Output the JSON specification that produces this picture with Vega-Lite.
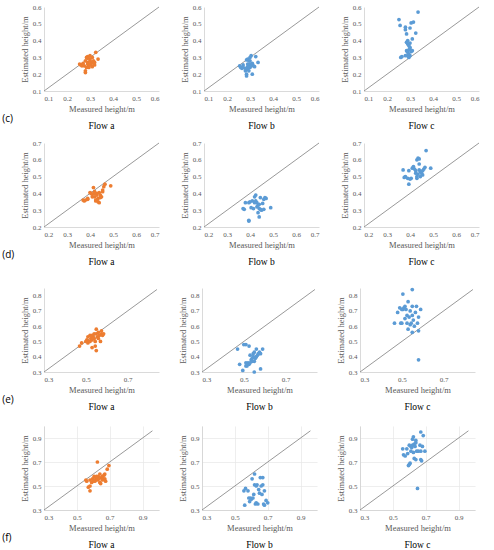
{
  "$schema": "https://vega.github.io/schema/vega-lite/v6.json",
  "padding": {"left": 2, "top": 3, "right": 2, "bottom": 2},
  "background": "white",
  "datasets": {
    "diag": [
      {"r": "c", "x": 0.1, "y": 0.1}, {"r": "c", "x": 0.6, "y": 0.6},
      {"r": "d", "x": 0.2, "y": 0.2}, {"r": "d", "x": 0.7, "y": 0.7},
      {"r": "e", "x": 0.3, "y": 0.3}, {"r": "e", "x": 0.84, "y": 0.84},
      {"r": "f", "x": 0.3, "y": 0.3}, {"r": "f", "x": 0.96, "y": 0.96}
    ],
    "pts": [
      {"r": "c", "f": "a", "x": 0.255, "y": 0.26}, {"r": "c", "f": "a", "x": 0.26, "y": 0.255}, {"r": "c", "f": "a", "x": 0.265, "y": 0.25},
      {"r": "c", "f": "a", "x": 0.27, "y": 0.265}, {"r": "c", "f": "a", "x": 0.275, "y": 0.25}, {"r": "c", "f": "a", "x": 0.28, "y": 0.21},
      {"r": "c", "f": "a", "x": 0.28, "y": 0.22}, {"r": "c", "f": "a", "x": 0.285, "y": 0.3}, {"r": "c", "f": "a", "x": 0.29, "y": 0.305},
      {"r": "c", "f": "a", "x": 0.29, "y": 0.27}, {"r": "c", "f": "a", "x": 0.29, "y": 0.26}, {"r": "c", "f": "a", "x": 0.295, "y": 0.25},
      {"r": "c", "f": "a", "x": 0.295, "y": 0.24}, {"r": "c", "f": "a", "x": 0.3, "y": 0.29}, {"r": "c", "f": "a", "x": 0.3, "y": 0.28},
      {"r": "c", "f": "a", "x": 0.3, "y": 0.31}, {"r": "c", "f": "a", "x": 0.305, "y": 0.27}, {"r": "c", "f": "a", "x": 0.305, "y": 0.255},
      {"r": "c", "f": "a", "x": 0.31, "y": 0.27}, {"r": "c", "f": "a", "x": 0.31, "y": 0.245}, {"r": "c", "f": "a", "x": 0.315, "y": 0.28},
      {"r": "c", "f": "a", "x": 0.32, "y": 0.27}, {"r": "c", "f": "a", "x": 0.32, "y": 0.255}, {"r": "c", "f": "a", "x": 0.325, "y": 0.33},
      {"r": "c", "f": "a", "x": 0.335, "y": 0.29}, {"r": "c", "f": "a", "x": 0.285, "y": 0.24}, {"r": "c", "f": "a", "x": 0.28, "y": 0.28},
      {"r": "c", "f": "a", "x": 0.3, "y": 0.26}, {"r": "c", "f": "a", "x": 0.31, "y": 0.3}, {"r": "c", "f": "a", "x": 0.29, "y": 0.295},

      {"r": "c", "f": "b", "x": 0.255, "y": 0.25}, {"r": "c", "f": "b", "x": 0.26, "y": 0.24}, {"r": "c", "f": "b", "x": 0.265, "y": 0.235},
      {"r": "c", "f": "b", "x": 0.27, "y": 0.255}, {"r": "c", "f": "b", "x": 0.28, "y": 0.22}, {"r": "c", "f": "b", "x": 0.285, "y": 0.19},
      {"r": "c", "f": "b", "x": 0.285, "y": 0.2}, {"r": "c", "f": "b", "x": 0.285, "y": 0.285}, {"r": "c", "f": "b", "x": 0.29, "y": 0.29},
      {"r": "c", "f": "b", "x": 0.29, "y": 0.23}, {"r": "c", "f": "b", "x": 0.295, "y": 0.28}, {"r": "c", "f": "b", "x": 0.295, "y": 0.25},
      {"r": "c", "f": "b", "x": 0.3, "y": 0.3}, {"r": "c", "f": "b", "x": 0.3, "y": 0.26}, {"r": "c", "f": "b", "x": 0.3, "y": 0.24},
      {"r": "c", "f": "b", "x": 0.305, "y": 0.31}, {"r": "c", "f": "b", "x": 0.305, "y": 0.25}, {"r": "c", "f": "b", "x": 0.31, "y": 0.255},
      {"r": "c", "f": "b", "x": 0.31, "y": 0.2}, {"r": "c", "f": "b", "x": 0.315, "y": 0.25}, {"r": "c", "f": "b", "x": 0.32, "y": 0.245},
      {"r": "c", "f": "b", "x": 0.325, "y": 0.305}, {"r": "c", "f": "b", "x": 0.335, "y": 0.27}, {"r": "c", "f": "b", "x": 0.29, "y": 0.245},
      {"r": "c", "f": "b", "x": 0.295, "y": 0.22}, {"r": "c", "f": "b", "x": 0.3, "y": 0.28}, {"r": "c", "f": "b", "x": 0.28, "y": 0.235},
      {"r": "c", "f": "b", "x": 0.27, "y": 0.24}, {"r": "c", "f": "b", "x": 0.31, "y": 0.265}, {"r": "c", "f": "b", "x": 0.29, "y": 0.26},

      {"r": "c", "f": "c", "x": 0.252, "y": 0.525}, {"r": "c", "f": "c", "x": 0.257, "y": 0.49}, {"r": "c", "f": "c", "x": 0.26, "y": 0.3},
      {"r": "c", "f": "c", "x": 0.265, "y": 0.305}, {"r": "c", "f": "c", "x": 0.28, "y": 0.48}, {"r": "c", "f": "c", "x": 0.28, "y": 0.465},
      {"r": "c", "f": "c", "x": 0.285, "y": 0.44}, {"r": "c", "f": "c", "x": 0.29, "y": 0.4}, {"r": "c", "f": "c", "x": 0.285, "y": 0.39},
      {"r": "c", "f": "c", "x": 0.29, "y": 0.38}, {"r": "c", "f": "c", "x": 0.295, "y": 0.37}, {"r": "c", "f": "c", "x": 0.3, "y": 0.36},
      {"r": "c", "f": "c", "x": 0.3, "y": 0.35}, {"r": "c", "f": "c", "x": 0.285, "y": 0.34}, {"r": "c", "f": "c", "x": 0.29, "y": 0.33},
      {"r": "c", "f": "c", "x": 0.295, "y": 0.32}, {"r": "c", "f": "c", "x": 0.3, "y": 0.31}, {"r": "c", "f": "c", "x": 0.295, "y": 0.3},
      {"r": "c", "f": "c", "x": 0.305, "y": 0.505}, {"r": "c", "f": "c", "x": 0.315, "y": 0.51}, {"r": "c", "f": "c", "x": 0.3, "y": 0.475},
      {"r": "c", "f": "c", "x": 0.325, "y": 0.445}, {"r": "c", "f": "c", "x": 0.31, "y": 0.41}, {"r": "c", "f": "c", "x": 0.31, "y": 0.34},
      {"r": "c", "f": "c", "x": 0.305, "y": 0.335}, {"r": "c", "f": "c", "x": 0.335, "y": 0.57}, {"r": "c", "f": "c", "x": 0.29, "y": 0.31},
      {"r": "c", "f": "c", "x": 0.28, "y": 0.31}, {"r": "c", "f": "c", "x": 0.3, "y": 0.385}, {"r": "c", "f": "c", "x": 0.295, "y": 0.345},

      {"r": "d", "f": "a", "x": 0.37, "y": 0.36}, {"r": "d", "f": "a", "x": 0.375, "y": 0.355}, {"r": "d", "f": "a", "x": 0.38, "y": 0.36},
      {"r": "d", "f": "a", "x": 0.39, "y": 0.37}, {"r": "d", "f": "a", "x": 0.39, "y": 0.365}, {"r": "d", "f": "a", "x": 0.4, "y": 0.405},
      {"r": "d", "f": "a", "x": 0.405, "y": 0.4}, {"r": "d", "f": "a", "x": 0.41, "y": 0.395}, {"r": "d", "f": "a", "x": 0.415, "y": 0.435},
      {"r": "d", "f": "a", "x": 0.42, "y": 0.41}, {"r": "d", "f": "a", "x": 0.42, "y": 0.38}, {"r": "d", "f": "a", "x": 0.425, "y": 0.355},
      {"r": "d", "f": "a", "x": 0.43, "y": 0.4}, {"r": "d", "f": "a", "x": 0.43, "y": 0.39}, {"r": "d", "f": "a", "x": 0.435, "y": 0.37},
      {"r": "d", "f": "a", "x": 0.435, "y": 0.35}, {"r": "d", "f": "a", "x": 0.44, "y": 0.345}, {"r": "d", "f": "a", "x": 0.44, "y": 0.405},
      {"r": "d", "f": "a", "x": 0.445, "y": 0.375}, {"r": "d", "f": "a", "x": 0.45, "y": 0.38}, {"r": "d", "f": "a", "x": 0.455, "y": 0.42},
      {"r": "d", "f": "a", "x": 0.455, "y": 0.41}, {"r": "d", "f": "a", "x": 0.46, "y": 0.44}, {"r": "d", "f": "a", "x": 0.465, "y": 0.455},
      {"r": "d", "f": "a", "x": 0.49, "y": 0.445}, {"r": "d", "f": "a", "x": 0.425, "y": 0.36}, {"r": "d", "f": "a", "x": 0.43, "y": 0.36},
      {"r": "d", "f": "a", "x": 0.445, "y": 0.39}, {"r": "d", "f": "a", "x": 0.41, "y": 0.38}, {"r": "d", "f": "a", "x": 0.42, "y": 0.4},

      {"r": "d", "f": "b", "x": 0.37, "y": 0.31}, {"r": "d", "f": "b", "x": 0.375, "y": 0.305}, {"r": "d", "f": "b", "x": 0.38, "y": 0.345},
      {"r": "d", "f": "b", "x": 0.395, "y": 0.345}, {"r": "d", "f": "b", "x": 0.395, "y": 0.24}, {"r": "d", "f": "b", "x": 0.395, "y": 0.235},
      {"r": "d", "f": "b", "x": 0.4, "y": 0.35}, {"r": "d", "f": "b", "x": 0.405, "y": 0.315}, {"r": "d", "f": "b", "x": 0.41, "y": 0.355},
      {"r": "d", "f": "b", "x": 0.415, "y": 0.31}, {"r": "d", "f": "b", "x": 0.42, "y": 0.38}, {"r": "d", "f": "b", "x": 0.425, "y": 0.39},
      {"r": "d", "f": "b", "x": 0.425, "y": 0.355}, {"r": "d", "f": "b", "x": 0.43, "y": 0.345}, {"r": "d", "f": "b", "x": 0.43, "y": 0.32},
      {"r": "d", "f": "b", "x": 0.435, "y": 0.33}, {"r": "d", "f": "b", "x": 0.435, "y": 0.285}, {"r": "d", "f": "b", "x": 0.44, "y": 0.26},
      {"r": "d", "f": "b", "x": 0.44, "y": 0.31}, {"r": "d", "f": "b", "x": 0.445, "y": 0.375}, {"r": "d", "f": "b", "x": 0.445, "y": 0.305},
      {"r": "d", "f": "b", "x": 0.45, "y": 0.3}, {"r": "d", "f": "b", "x": 0.455, "y": 0.34}, {"r": "d", "f": "b", "x": 0.46, "y": 0.365},
      {"r": "d", "f": "b", "x": 0.465, "y": 0.375}, {"r": "d", "f": "b", "x": 0.47, "y": 0.37}, {"r": "d", "f": "b", "x": 0.46, "y": 0.305},
      {"r": "d", "f": "b", "x": 0.49, "y": 0.315}, {"r": "d", "f": "b", "x": 0.42, "y": 0.345}, {"r": "d", "f": "b", "x": 0.44, "y": 0.335},

      {"r": "d", "f": "c", "x": 0.37, "y": 0.54}, {"r": "d", "f": "c", "x": 0.375, "y": 0.495}, {"r": "d", "f": "c", "x": 0.38, "y": 0.5},
      {"r": "d", "f": "c", "x": 0.39, "y": 0.49}, {"r": "d", "f": "c", "x": 0.395, "y": 0.535}, {"r": "d", "f": "c", "x": 0.4, "y": 0.485},
      {"r": "d", "f": "c", "x": 0.395, "y": 0.455}, {"r": "d", "f": "c", "x": 0.405, "y": 0.49}, {"r": "d", "f": "c", "x": 0.41, "y": 0.55},
      {"r": "d", "f": "c", "x": 0.415, "y": 0.56}, {"r": "d", "f": "c", "x": 0.42, "y": 0.545}, {"r": "d", "f": "c", "x": 0.425, "y": 0.535},
      {"r": "d", "f": "c", "x": 0.43, "y": 0.6}, {"r": "d", "f": "c", "x": 0.435, "y": 0.61}, {"r": "d", "f": "c", "x": 0.44, "y": 0.605},
      {"r": "d", "f": "c", "x": 0.44, "y": 0.575}, {"r": "d", "f": "c", "x": 0.44, "y": 0.54}, {"r": "d", "f": "c", "x": 0.43, "y": 0.5},
      {"r": "d", "f": "c", "x": 0.43, "y": 0.49}, {"r": "d", "f": "c", "x": 0.445, "y": 0.53}, {"r": "d", "f": "c", "x": 0.45, "y": 0.52},
      {"r": "d", "f": "c", "x": 0.455, "y": 0.51}, {"r": "d", "f": "c", "x": 0.46, "y": 0.545}, {"r": "d", "f": "c", "x": 0.465, "y": 0.555},
      {"r": "d", "f": "c", "x": 0.47, "y": 0.655}, {"r": "d", "f": "c", "x": 0.49, "y": 0.55}, {"r": "d", "f": "c", "x": 0.435, "y": 0.515},
      {"r": "d", "f": "c", "x": 0.425, "y": 0.52}, {"r": "d", "f": "c", "x": 0.445, "y": 0.5}, {"r": "d", "f": "c", "x": 0.455, "y": 0.535},

      {"r": "e", "f": "a", "x": 0.47, "y": 0.47}, {"r": "e", "f": "a", "x": 0.48, "y": 0.49}, {"r": "e", "f": "a", "x": 0.5, "y": 0.5},
      {"r": "e", "f": "a", "x": 0.505, "y": 0.51}, {"r": "e", "f": "a", "x": 0.51, "y": 0.49}, {"r": "e", "f": "a", "x": 0.51, "y": 0.53},
      {"r": "e", "f": "a", "x": 0.515, "y": 0.5}, {"r": "e", "f": "a", "x": 0.52, "y": 0.54}, {"r": "e", "f": "a", "x": 0.525, "y": 0.52},
      {"r": "e", "f": "a", "x": 0.53, "y": 0.51}, {"r": "e", "f": "a", "x": 0.53, "y": 0.46}, {"r": "e", "f": "a", "x": 0.535, "y": 0.53},
      {"r": "e", "f": "a", "x": 0.54, "y": 0.55}, {"r": "e", "f": "a", "x": 0.54, "y": 0.52}, {"r": "e", "f": "a", "x": 0.545, "y": 0.5},
      {"r": "e", "f": "a", "x": 0.545, "y": 0.47}, {"r": "e", "f": "a", "x": 0.55, "y": 0.58}, {"r": "e", "f": "a", "x": 0.55, "y": 0.55},
      {"r": "e", "f": "a", "x": 0.55, "y": 0.44}, {"r": "e", "f": "a", "x": 0.555, "y": 0.53}, {"r": "e", "f": "a", "x": 0.56, "y": 0.56},
      {"r": "e", "f": "a", "x": 0.565, "y": 0.54}, {"r": "e", "f": "a", "x": 0.57, "y": 0.5}, {"r": "e", "f": "a", "x": 0.575, "y": 0.57},
      {"r": "e", "f": "a", "x": 0.575, "y": 0.55}, {"r": "e", "f": "a", "x": 0.58, "y": 0.54}, {"r": "e", "f": "a", "x": 0.585, "y": 0.55},
      {"r": "e", "f": "a", "x": 0.52, "y": 0.5}, {"r": "e", "f": "a", "x": 0.53, "y": 0.54}, {"r": "e", "f": "a", "x": 0.56, "y": 0.52},

      {"r": "e", "f": "b", "x": 0.47, "y": 0.45}, {"r": "e", "f": "b", "x": 0.48, "y": 0.35}, {"r": "e", "f": "b", "x": 0.495, "y": 0.31},
      {"r": "e", "f": "b", "x": 0.5, "y": 0.48}, {"r": "e", "f": "b", "x": 0.51, "y": 0.48}, {"r": "e", "f": "b", "x": 0.51, "y": 0.36},
      {"r": "e", "f": "b", "x": 0.51, "y": 0.34}, {"r": "e", "f": "b", "x": 0.515, "y": 0.34}, {"r": "e", "f": "b", "x": 0.52, "y": 0.36},
      {"r": "e", "f": "b", "x": 0.525, "y": 0.47}, {"r": "e", "f": "b", "x": 0.525, "y": 0.35}, {"r": "e", "f": "b", "x": 0.53, "y": 0.41},
      {"r": "e", "f": "b", "x": 0.535, "y": 0.38}, {"r": "e", "f": "b", "x": 0.54, "y": 0.37}, {"r": "e", "f": "b", "x": 0.54, "y": 0.39},
      {"r": "e", "f": "b", "x": 0.545, "y": 0.42}, {"r": "e", "f": "b", "x": 0.545, "y": 0.4}, {"r": "e", "f": "b", "x": 0.55, "y": 0.43},
      {"r": "e", "f": "b", "x": 0.55, "y": 0.37}, {"r": "e", "f": "b", "x": 0.55, "y": 0.3}, {"r": "e", "f": "b", "x": 0.555, "y": 0.39},
      {"r": "e", "f": "b", "x": 0.56, "y": 0.45}, {"r": "e", "f": "b", "x": 0.56, "y": 0.4}, {"r": "e", "f": "b", "x": 0.565, "y": 0.41},
      {"r": "e", "f": "b", "x": 0.57, "y": 0.42}, {"r": "e", "f": "b", "x": 0.575, "y": 0.43}, {"r": "e", "f": "b", "x": 0.58, "y": 0.42},
      {"r": "e", "f": "b", "x": 0.58, "y": 0.32}, {"r": "e", "f": "b", "x": 0.59, "y": 0.45}, {"r": "e", "f": "b", "x": 0.53, "y": 0.36},

      {"r": "e", "f": "c", "x": 0.465, "y": 0.62}, {"r": "e", "f": "c", "x": 0.48, "y": 0.69}, {"r": "e", "f": "c", "x": 0.49, "y": 0.72},
      {"r": "e", "f": "c", "x": 0.495, "y": 0.62}, {"r": "e", "f": "c", "x": 0.5, "y": 0.62}, {"r": "e", "f": "c", "x": 0.505, "y": 0.81},
      {"r": "e", "f": "c", "x": 0.505, "y": 0.71}, {"r": "e", "f": "c", "x": 0.51, "y": 0.72}, {"r": "e", "f": "c", "x": 0.515, "y": 0.73},
      {"r": "e", "f": "c", "x": 0.515, "y": 0.65}, {"r": "e", "f": "c", "x": 0.52, "y": 0.71}, {"r": "e", "f": "c", "x": 0.525, "y": 0.67},
      {"r": "e", "f": "c", "x": 0.53, "y": 0.76}, {"r": "e", "f": "c", "x": 0.53, "y": 0.58}, {"r": "e", "f": "c", "x": 0.535, "y": 0.66},
      {"r": "e", "f": "c", "x": 0.54, "y": 0.7}, {"r": "e", "f": "c", "x": 0.54, "y": 0.61}, {"r": "e", "f": "c", "x": 0.545, "y": 0.62},
      {"r": "e", "f": "c", "x": 0.55, "y": 0.84}, {"r": "e", "f": "c", "x": 0.55, "y": 0.73}, {"r": "e", "f": "c", "x": 0.55, "y": 0.67},
      {"r": "e", "f": "c", "x": 0.55, "y": 0.56}, {"r": "e", "f": "c", "x": 0.555, "y": 0.64}, {"r": "e", "f": "c", "x": 0.56, "y": 0.6},
      {"r": "e", "f": "c", "x": 0.565, "y": 0.69}, {"r": "e", "f": "c", "x": 0.57, "y": 0.73}, {"r": "e", "f": "c", "x": 0.575, "y": 0.62},
      {"r": "e", "f": "c", "x": 0.58, "y": 0.66}, {"r": "e", "f": "c", "x": 0.58, "y": 0.57}, {"r": "e", "f": "c", "x": 0.58, "y": 0.38},
      {"r": "e", "f": "c", "x": 0.59, "y": 0.71}, {"r": "e", "f": "c", "x": 0.5, "y": 0.71}, {"r": "e", "f": "c", "x": 0.525, "y": 0.62},

      {"r": "f", "f": "a", "x": 0.555, "y": 0.55}, {"r": "f", "f": "a", "x": 0.56, "y": 0.54}, {"r": "f", "f": "a", "x": 0.57, "y": 0.49},
      {"r": "f", "f": "a", "x": 0.58, "y": 0.46}, {"r": "f", "f": "a", "x": 0.58, "y": 0.5}, {"r": "f", "f": "a", "x": 0.58, "y": 0.55},
      {"r": "f", "f": "a", "x": 0.59, "y": 0.53}, {"r": "f", "f": "a", "x": 0.595, "y": 0.56}, {"r": "f", "f": "a", "x": 0.6, "y": 0.55},
      {"r": "f", "f": "a", "x": 0.605, "y": 0.58}, {"r": "f", "f": "a", "x": 0.61, "y": 0.54}, {"r": "f", "f": "a", "x": 0.615, "y": 0.57},
      {"r": "f", "f": "a", "x": 0.62, "y": 0.56}, {"r": "f", "f": "a", "x": 0.625, "y": 0.7}, {"r": "f", "f": "a", "x": 0.625, "y": 0.55},
      {"r": "f", "f": "a", "x": 0.63, "y": 0.58}, {"r": "f", "f": "a", "x": 0.635, "y": 0.56}, {"r": "f", "f": "a", "x": 0.64, "y": 0.6},
      {"r": "f", "f": "a", "x": 0.64, "y": 0.53}, {"r": "f", "f": "a", "x": 0.645, "y": 0.52}, {"r": "f", "f": "a", "x": 0.65, "y": 0.57},
      {"r": "f", "f": "a", "x": 0.655, "y": 0.58}, {"r": "f", "f": "a", "x": 0.66, "y": 0.56}, {"r": "f", "f": "a", "x": 0.665, "y": 0.59},
      {"r": "f", "f": "a", "x": 0.67, "y": 0.6}, {"r": "f", "f": "a", "x": 0.67, "y": 0.56}, {"r": "f", "f": "a", "x": 0.675, "y": 0.54},
      {"r": "f", "f": "a", "x": 0.685, "y": 0.64}, {"r": "f", "f": "a", "x": 0.695, "y": 0.67}, {"r": "f", "f": "a", "x": 0.6, "y": 0.54},
      {"r": "f", "f": "a", "x": 0.62, "y": 0.58}, {"r": "f", "f": "a", "x": 0.655, "y": 0.55},

      {"r": "f", "f": "b", "x": 0.555, "y": 0.46}, {"r": "f", "f": "b", "x": 0.56, "y": 0.34}, {"r": "f", "f": "b", "x": 0.565, "y": 0.48},
      {"r": "f", "f": "b", "x": 0.58, "y": 0.46}, {"r": "f", "f": "b", "x": 0.585, "y": 0.4}, {"r": "f", "f": "b", "x": 0.59, "y": 0.37},
      {"r": "f", "f": "b", "x": 0.595, "y": 0.4}, {"r": "f", "f": "b", "x": 0.6, "y": 0.39}, {"r": "f", "f": "b", "x": 0.605, "y": 0.56},
      {"r": "f", "f": "b", "x": 0.61, "y": 0.4}, {"r": "f", "f": "b", "x": 0.615, "y": 0.43}, {"r": "f", "f": "b", "x": 0.62, "y": 0.6},
      {"r": "f", "f": "b", "x": 0.62, "y": 0.51}, {"r": "f", "f": "b", "x": 0.625, "y": 0.35}, {"r": "f", "f": "b", "x": 0.63, "y": 0.36},
      {"r": "f", "f": "b", "x": 0.635, "y": 0.51}, {"r": "f", "f": "b", "x": 0.64, "y": 0.35}, {"r": "f", "f": "b", "x": 0.645, "y": 0.47},
      {"r": "f", "f": "b", "x": 0.65, "y": 0.44}, {"r": "f", "f": "b", "x": 0.655, "y": 0.57}, {"r": "f", "f": "b", "x": 0.66, "y": 0.5},
      {"r": "f", "f": "b", "x": 0.665, "y": 0.43}, {"r": "f", "f": "b", "x": 0.67, "y": 0.57}, {"r": "f", "f": "b", "x": 0.67, "y": 0.51},
      {"r": "f", "f": "b", "x": 0.675, "y": 0.35}, {"r": "f", "f": "b", "x": 0.68, "y": 0.46}, {"r": "f", "f": "b", "x": 0.68, "y": 0.34},
      {"r": "f", "f": "b", "x": 0.69, "y": 0.38}, {"r": "f", "f": "b", "x": 0.7, "y": 0.36}, {"r": "f", "f": "b", "x": 0.63, "y": 0.5},

      {"r": "f", "f": "c", "x": 0.56, "y": 0.81}, {"r": "f", "f": "c", "x": 0.565, "y": 0.76}, {"r": "f", "f": "c", "x": 0.575, "y": 0.75},
      {"r": "f", "f": "c", "x": 0.585, "y": 0.81}, {"r": "f", "f": "c", "x": 0.59, "y": 0.77}, {"r": "f", "f": "c", "x": 0.595, "y": 0.67},
      {"r": "f", "f": "c", "x": 0.6, "y": 0.68}, {"r": "f", "f": "c", "x": 0.6, "y": 0.84}, {"r": "f", "f": "c", "x": 0.605, "y": 0.69},
      {"r": "f", "f": "c", "x": 0.61, "y": 0.83}, {"r": "f", "f": "c", "x": 0.615, "y": 0.82}, {"r": "f", "f": "c", "x": 0.62, "y": 0.89},
      {"r": "f", "f": "c", "x": 0.62, "y": 0.84}, {"r": "f", "f": "c", "x": 0.625, "y": 0.91}, {"r": "f", "f": "c", "x": 0.625, "y": 0.78},
      {"r": "f", "f": "c", "x": 0.63, "y": 0.85}, {"r": "f", "f": "c", "x": 0.63, "y": 0.73}, {"r": "f", "f": "c", "x": 0.635, "y": 0.83},
      {"r": "f", "f": "c", "x": 0.64, "y": 0.88}, {"r": "f", "f": "c", "x": 0.64, "y": 0.86}, {"r": "f", "f": "c", "x": 0.64, "y": 0.72},
      {"r": "f", "f": "c", "x": 0.645, "y": 0.79}, {"r": "f", "f": "c", "x": 0.65, "y": 0.48}, {"r": "f", "f": "c", "x": 0.655, "y": 0.79},
      {"r": "f", "f": "c", "x": 0.665, "y": 0.84}, {"r": "f", "f": "c", "x": 0.67, "y": 0.95}, {"r": "f", "f": "c", "x": 0.67, "y": 0.79},
      {"r": "f", "f": "c", "x": 0.67, "y": 0.72}, {"r": "f", "f": "c", "x": 0.675, "y": 0.71}, {"r": "f", "f": "c", "x": 0.68, "y": 0.83},
      {"r": "f", "f": "c", "x": 0.685, "y": 0.92}, {"r": "f", "f": "c", "x": 0.695, "y": 0.79}, {"r": "f", "f": "c", "x": 0.61, "y": 0.79}
    ]
  },
  "spacing": 21,
  "vconcat": [
    {
      "spacing": 9,
      "vconcat": [
        {
          "title": {"text": "(c)", "orient": "bottom", "anchor": "start", "offset": -16, "dx": -18, "font": "Open Sans", "fontSize": 10, "fontWeight": "normal", "color": "#000000"},
          "spacing": 19,
          "hconcat": [
            {
              "width": 115, "height": 84, "title": "Flow a",
              "encoding": {
                "x": {"field": "x", "type": "quantitative", "scale": {"domain": [0.1, 0.6]}, "axis": {"values": [0.1, 0.2, 0.3, 0.4, 0.5, 0.6], "title": "Measured height/m"}},
                "y": {"field": "y", "type": "quantitative", "scale": {"domain": [0.1, 0.6]}, "axis": {"values": [0.1, 0.2, 0.3, 0.4, 0.5, 0.6], "title": "Estimated height/m"}}
              },
              "layer": [
                {"data": {"name": "diag"}, "transform": [{"filter": "datum.r == 'c'"}], "mark": {"type": "line", "color": "#7f7f7f", "strokeWidth": 0.8}},
                {"data": {"name": "pts"}, "transform": [{"filter": "datum.r == 'c' && datum.f == 'a'"}], "mark": {"type": "circle", "size": 14, "color": "#ED7D31", "opacity": 1}}
              ]
            },
            {
              "width": 115, "height": 84, "title": "Flow b",
              "encoding": {
                "x": {"field": "x", "type": "quantitative", "scale": {"domain": [0.1, 0.6]}, "axis": {"values": [0.1, 0.2, 0.3, 0.4, 0.5, 0.6], "title": "Measured height/m"}},
                "y": {"field": "y", "type": "quantitative", "scale": {"domain": [0.1, 0.6]}, "axis": {"values": [0.1, 0.2, 0.3, 0.4, 0.5, 0.6], "title": "Estimated height/m"}}
              },
              "layer": [
                {"data": {"name": "diag"}, "transform": [{"filter": "datum.r == 'c'"}], "mark": {"type": "line", "color": "#7f7f7f", "strokeWidth": 0.8}},
                {"data": {"name": "pts"}, "transform": [{"filter": "datum.r == 'c' && datum.f == 'b'"}], "mark": {"type": "circle", "size": 14, "color": "#5B9BD5", "opacity": 1}}
              ]
            },
            {
              "width": 115, "height": 84, "title": "Flow c",
              "encoding": {
                "x": {"field": "x", "type": "quantitative", "scale": {"domain": [0.1, 0.6]}, "axis": {"values": [0.1, 0.2, 0.3, 0.4, 0.5, 0.6], "title": "Measured height/m"}},
                "y": {"field": "y", "type": "quantitative", "scale": {"domain": [0.1, 0.6]}, "axis": {"values": [0.1, 0.2, 0.3, 0.4, 0.5, 0.6], "title": "Estimated height/m"}}
              },
              "layer": [
                {"data": {"name": "diag"}, "transform": [{"filter": "datum.r == 'c'"}], "mark": {"type": "line", "color": "#7f7f7f", "strokeWidth": 0.8}},
                {"data": {"name": "pts"}, "transform": [{"filter": "datum.r == 'c' && datum.f == 'c'"}], "mark": {"type": "circle", "size": 14, "color": "#5B9BD5", "opacity": 1}}
              ]
            }
          ]
        },
        {
          "title": {"text": "(d)", "orient": "bottom", "anchor": "start", "offset": -16, "dx": -18, "font": "Open Sans", "fontSize": 10, "fontWeight": "normal", "color": "#000000"},
          "spacing": 19,
          "hconcat": [
            {
              "width": 115, "height": 84, "title": "Flow a",
              "encoding": {
                "x": {"field": "x", "type": "quantitative", "scale": {"domain": [0.2, 0.7]}, "axis": {"values": [0.2, 0.3, 0.4, 0.5, 0.6, 0.7], "title": "Measured height/m"}},
                "y": {"field": "y", "type": "quantitative", "scale": {"domain": [0.2, 0.7]}, "axis": {"values": [0.2, 0.3, 0.4, 0.5, 0.6, 0.7], "title": "Estimated height/m"}}
              },
              "layer": [
                {"data": {"name": "diag"}, "transform": [{"filter": "datum.r == 'd'"}], "mark": {"type": "line", "color": "#7f7f7f", "strokeWidth": 0.8}},
                {"data": {"name": "pts"}, "transform": [{"filter": "datum.r == 'd' && datum.f == 'a'"}], "mark": {"type": "circle", "size": 14, "color": "#ED7D31", "opacity": 1}}
              ]
            },
            {
              "width": 115, "height": 84, "title": "Flow b",
              "encoding": {
                "x": {"field": "x", "type": "quantitative", "scale": {"domain": [0.2, 0.7]}, "axis": {"values": [0.2, 0.3, 0.4, 0.5, 0.6, 0.7], "title": "Measured height/m"}},
                "y": {"field": "y", "type": "quantitative", "scale": {"domain": [0.2, 0.7]}, "axis": {"values": [0.2, 0.3, 0.4, 0.5, 0.6, 0.7], "title": "Estimated height/m"}}
              },
              "layer": [
                {"data": {"name": "diag"}, "transform": [{"filter": "datum.r == 'd'"}], "mark": {"type": "line", "color": "#7f7f7f", "strokeWidth": 0.8}},
                {"data": {"name": "pts"}, "transform": [{"filter": "datum.r == 'd' && datum.f == 'b'"}], "mark": {"type": "circle", "size": 14, "color": "#5B9BD5", "opacity": 1}}
              ]
            },
            {
              "width": 115, "height": 84, "title": "Flow c",
              "encoding": {
                "x": {"field": "x", "type": "quantitative", "scale": {"domain": [0.2, 0.7]}, "axis": {"values": [0.2, 0.3, 0.4, 0.5, 0.6, 0.7], "title": "Measured height/m"}},
                "y": {"field": "y", "type": "quantitative", "scale": {"domain": [0.2, 0.7]}, "axis": {"values": [0.2, 0.3, 0.4, 0.5, 0.6, 0.7], "title": "Estimated height/m"}}
              },
              "layer": [
                {"data": {"name": "diag"}, "transform": [{"filter": "datum.r == 'd'"}], "mark": {"type": "line", "color": "#7f7f7f", "strokeWidth": 0.8}},
                {"data": {"name": "pts"}, "transform": [{"filter": "datum.r == 'd' && datum.f == 'c'"}], "mark": {"type": "circle", "size": 14, "color": "#5B9BD5", "opacity": 1}}
              ]
            }
          ]
        }
      ]
    },
    {
      "spacing": 15,
      "vconcat": [
        {
          "title": {"text": "(e)", "orient": "bottom", "anchor": "start", "offset": -16, "dx": -18, "font": "Open Sans", "fontSize": 10, "fontWeight": "normal", "color": "#000000"},
          "spacing": 19,
          "hconcat": [
            {
              "width": 115, "height": 84, "title": "Flow a",
              "encoding": {
                "x": {"field": "x", "type": "quantitative", "scale": {"domain": [0.3, 0.85]}, "axis": {"values": [0.3, 0.5, 0.7], "title": "Measured height/m"}},
                "y": {"field": "y", "type": "quantitative", "scale": {"domain": [0.3, 0.85]}, "axis": {"values": [0.3, 0.4, 0.5, 0.6, 0.7, 0.8], "title": "Estimated height/m"}}
              },
              "layer": [
                {"data": {"name": "diag"}, "transform": [{"filter": "datum.r == 'e'"}], "mark": {"type": "line", "color": "#7f7f7f", "strokeWidth": 0.8}},
                {"data": {"name": "pts"}, "transform": [{"filter": "datum.r == 'e' && datum.f == 'a'"}], "mark": {"type": "circle", "size": 14, "color": "#ED7D31", "opacity": 1}}
              ]
            },
            {
              "width": 115, "height": 84, "title": "Flow b",
              "encoding": {
                "x": {"field": "x", "type": "quantitative", "scale": {"domain": [0.3, 0.85]}, "axis": {"values": [0.3, 0.5, 0.7], "title": "Measured height/m"}},
                "y": {"field": "y", "type": "quantitative", "scale": {"domain": [0.3, 0.85]}, "axis": {"values": [0.3, 0.4, 0.5, 0.6, 0.7, 0.8], "title": "Estimated height/m"}}
              },
              "layer": [
                {"data": {"name": "diag"}, "transform": [{"filter": "datum.r == 'e'"}], "mark": {"type": "line", "color": "#7f7f7f", "strokeWidth": 0.8}},
                {"data": {"name": "pts"}, "transform": [{"filter": "datum.r == 'e' && datum.f == 'b'"}], "mark": {"type": "circle", "size": 14, "color": "#5B9BD5", "opacity": 1}}
              ]
            },
            {
              "width": 115, "height": 84, "title": "Flow c",
              "encoding": {
                "x": {"field": "x", "type": "quantitative", "scale": {"domain": [0.3, 0.85]}, "axis": {"values": [0.3, 0.5, 0.7], "title": "Measured height/m"}},
                "y": {"field": "y", "type": "quantitative", "scale": {"domain": [0.3, 0.85]}, "axis": {"values": [0.3, 0.4, 0.5, 0.6, 0.7, 0.8], "title": "Estimated height/m"}}
              },
              "layer": [
                {"data": {"name": "diag"}, "transform": [{"filter": "datum.r == 'e'"}], "mark": {"type": "line", "color": "#7f7f7f", "strokeWidth": 0.8}},
                {"data": {"name": "pts"}, "transform": [{"filter": "datum.r == 'e' && datum.f == 'c'"}], "mark": {"type": "circle", "size": 14, "color": "#5B9BD5", "opacity": 1}}
              ]
            }
          ]
        },
        {
          "title": {"text": "(f)", "orient": "bottom", "anchor": "start", "offset": -16, "dx": -18, "font": "Open Sans", "fontSize": 10, "fontWeight": "normal", "color": "#000000"},
          "spacing": 19,
          "hconcat": [
            {
              "width": 115, "height": 84, "title": "Flow a",
              "encoding": {
                "x": {"field": "x", "type": "quantitative", "scale": {"domain": [0.3, 1.0]}, "axis": {"values": [0.3, 0.5, 0.7, 0.9], "title": "Measured height/m", "grid": true}},
                "y": {"field": "y", "type": "quantitative", "scale": {"domain": [0.3, 1.0]}, "axis": {"values": [0.3, 0.5, 0.7, 0.9], "title": "Estimated height/m", "grid": true}}
              },
              "layer": [
                {"data": {"name": "diag"}, "transform": [{"filter": "datum.r == 'f'"}], "mark": {"type": "line", "color": "#7f7f7f", "strokeWidth": 0.8}},
                {"data": {"name": "pts"}, "transform": [{"filter": "datum.r == 'f' && datum.f == 'a'"}], "mark": {"type": "circle", "size": 14, "color": "#ED7D31", "opacity": 1}}
              ]
            },
            {
              "width": 115, "height": 84, "title": "Flow b",
              "encoding": {
                "x": {"field": "x", "type": "quantitative", "scale": {"domain": [0.3, 1.0]}, "axis": {"values": [0.3, 0.5, 0.7, 0.9], "title": "Measured height/m", "grid": true}},
                "y": {"field": "y", "type": "quantitative", "scale": {"domain": [0.3, 1.0]}, "axis": {"values": [0.3, 0.5, 0.7, 0.9], "title": "Estimated height/m", "grid": true}}
              },
              "layer": [
                {"data": {"name": "diag"}, "transform": [{"filter": "datum.r == 'f'"}], "mark": {"type": "line", "color": "#7f7f7f", "strokeWidth": 0.8}},
                {"data": {"name": "pts"}, "transform": [{"filter": "datum.r == 'f' && datum.f == 'b'"}], "mark": {"type": "circle", "size": 14, "color": "#5B9BD5", "opacity": 1}}
              ]
            },
            {
              "width": 115, "height": 84, "title": "Flow c",
              "encoding": {
                "x": {"field": "x", "type": "quantitative", "scale": {"domain": [0.3, 1.0]}, "axis": {"values": [0.3, 0.5, 0.7, 0.9], "title": "Measured height/m", "grid": true}},
                "y": {"field": "y", "type": "quantitative", "scale": {"domain": [0.3, 1.0]}, "axis": {"values": [0.3, 0.5, 0.7, 0.9], "title": "Estimated height/m", "grid": true}}
              },
              "layer": [
                {"data": {"name": "diag"}, "transform": [{"filter": "datum.r == 'f'"}], "mark": {"type": "line", "color": "#7f7f7f", "strokeWidth": 0.8}},
                {"data": {"name": "pts"}, "transform": [{"filter": "datum.r == 'f' && datum.f == 'c'"}], "mark": {"type": "circle", "size": 14, "color": "#5B9BD5", "opacity": 1}}
              ]
            }
          ]
        }
      ]
    }
  ],
  "config": {
    "view": {"stroke": null},
    "title": {"orient": "bottom", "font": "Liberation Serif", "fontSize": 9.5, "fontWeight": "normal", "color": "#000000", "offset": 8},
    "axis": {
      "format": ".1f",
      "labelFont": "Liberation Serif", "labelFontSize": 7, "labelColor": "#595959", "labelPadding": 3,
      "titleFont": "Liberation Serif", "titleFontSize": 8.5, "titleFontWeight": "normal", "titleColor": "#595959", "titlePadding": 3,
      "ticks": false, "domainColor": "#d0d0d0", "domainWidth": 0.8, "grid": false, "gridColor": "#e6e6e6", "gridWidth": 0.7
    }
  }
}
